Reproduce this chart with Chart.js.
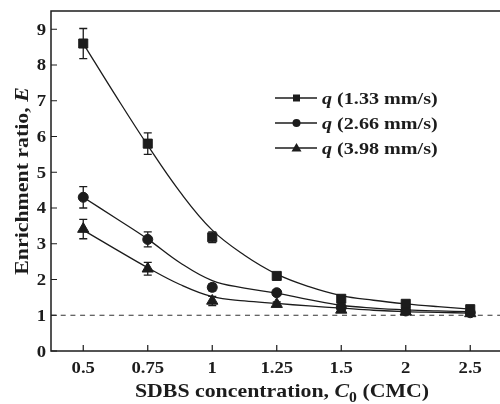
<!DOCTYPE html>
<html>
<head>
<meta charset="utf-8">
<script src="https://cdn.jsdelivr.net/npm/chart.js@4/dist/chart.umd.min.js"></script>
<style>
  html, body { margin: 0; padding: 0; background: #fff; overflow: hidden; }
  #wrap { width: 510px; height: 404px; }
</style>
</head>
<body>
<div id="wrap"><canvas id="myChart" width="510" height="404"></canvas></div>
<script>
'use strict';

let concLabels = ['0.5', '0.75', '1', '1.25', '1.5', '2', '2.5'];
let yTicks = [0, 1, 2, 3, 4, 5, 6, 7, 8, 9];
let seriesNames = ['1.33 mm/s', '2.66 mm/s', '3.98 mm/s'];

// measured points
let q133 = [8.6, 5.8, 3.18, 2.1, 1.46, 1.32, 1.17];
let q266 = [4.3, 3.12, 1.78, 1.63, 1.22, 1.12, 1.07];
let q398 = [3.41, 2.3, 1.4, 1.31, 1.15, 1.1, 1.05];

let err133 = [0.42, 0.3, 0.15, 0.06, 0.05, 0.04, 0.04];
let err266 = [0.3, 0.21, 0.1, 0.07, 0.05, 0.04, 0.04];
let err398 = [0.27, 0.18, 0.13, 0.06, 0.05, 0.04, 0.04];

let fit133 = [8.6, 7.15, 5.75, 4.45, 3.38, 2.68, 2.15, 1.8, 1.55, 1.42, 1.32, 1.24, 1.17];
let fit266 = [4.3, 3.72, 3.13, 2.47, 1.97, 1.76, 1.62, 1.44, 1.28, 1.2, 1.15, 1.12, 1.1];
let fit398 = [3.38, 2.85, 2.33, 1.86, 1.52, 1.4, 1.33, 1.26, 1.2, 1.14, 1.1, 1.08, 1.06];

let refLevel = 1;

let ink = '#1c1c1c';
let serif = "'Liberation Serif', 'Times New Roman', serif";

function points(vals) {
    return vals.map((v, i) => ({ x: i, y: v }));
}
function fitPoints(vals) {
    return vals.map((v, i) => ({ x: i / 2, y: v }));
}

function markerSet(vals, style, radius) {
    return {
        data: points(vals),
        showLine: false,
        pointStyle: style,
        pointRadius: radius,
        pointBackgroundColor: ink,
        pointBorderColor: ink,
        pointBorderWidth: 1,
        order: 0
    };
}
function fitSet(vals) {
    return {
        data: fitPoints(vals),
        showLine: true,
        pointRadius: 0,
        borderColor: ink,
        borderWidth: 1.3,
        tension: 0.4,
        order: 2
    };
}

// draws parts of text one after another, stretched a bit wider like the original
function drawParts(ctx, parts, x, y, sx, align) {
    ctx.save();
    ctx.translate(x, y);
    ctx.scale(sx, 1);
    let total = 0;
    parts.forEach(p => { ctx.font = p.font; total += ctx.measureText(p.text).width; });
    let cx = 0;
    if (align === 'center') cx = -total / 2;
    if (align === 'right') cx = -total;
    ctx.textAlign = 'left';
    parts.forEach(p => {
        ctx.font = p.font;
        ctx.fillText(p.text, cx, p.dy || 0);
        cx += ctx.measureText(p.text).width;
    });
    ctx.restore();
}

function legendMarker(ctx, style, x, y) {
    ctx.beginPath();
    if (style === 'rect') {
        ctx.rect(x - 3.5, y - 3.5, 7, 7);
    } else if (style === 'circle') {
        ctx.arc(x, y, 4, 0, Math.PI * 2);
    } else {
        ctx.moveTo(x, y - 5);
        ctx.lineTo(x + 5, y + 3.5);
        ctx.lineTo(x - 5, y + 3.5);
        ctx.closePath();
    }
    ctx.fill();
}

let errorBars = {
    id: 'errorBars',
    beforeDatasetsDraw(chart) {
        let ctx = chart.ctx;
        let xs = chart.scales.x, ys = chart.scales.y;
        ctx.save();
        ctx.strokeStyle = ink;
        ctx.lineWidth = 1.3;
        [[q133, err133], [q266, err266], [q398, err398]].forEach(pair => {
            let vals = pair[0], errs = pair[1];
            vals.forEach((v, i) => {
                let px = xs.getPixelForValue(i);
                let top = ys.getPixelForValue(v + errs[i]);
                let bot = ys.getPixelForValue(v - errs[i]);
                ctx.beginPath();
                ctx.moveTo(px, top); ctx.lineTo(px, bot);
                ctx.moveTo(px - 4, top); ctx.lineTo(px + 4, top);
                ctx.moveTo(px - 4, bot); ctx.lineTo(px + 4, bot);
                ctx.stroke();
            });
        });
        ctx.restore();
    }
};

let frame = {
    id: 'frame',
    afterDraw(chart) {
        let ctx = chart.ctx;
        let a = chart.chartArea;
        let xs = chart.scales.x, ys = chart.scales.y;
        ctx.save();
        ctx.strokeStyle = ink;
        ctx.lineWidth = 1.5;
        ctx.strokeRect(a.left, a.top, a.right - a.left, a.bottom - a.top);

        // inward ticks
        ctx.lineWidth = 1.2;
        ctx.beginPath();
        concLabels.forEach((l, i) => {
            let px = xs.getPixelForValue(i);
            ctx.moveTo(px, a.bottom); ctx.lineTo(px, a.bottom - 6);
        });
        yTicks.forEach(t => {
            let py = ys.getPixelForValue(t);
            ctx.moveTo(a.left, py); ctx.lineTo(a.left + 6, py);
        });
        ctx.stroke();

        ctx.fillStyle = ink;
        ctx.textBaseline = 'alphabetic';
        let tickF = 'bold 17px ' + serif;

        // tick labels
        concLabels.forEach((l, i) => {
            drawParts(ctx, [{ text: l, font: tickF }], xs.getPixelForValue(i), a.bottom + 21.5, 1.1, 'center');
        });
        yTicks.forEach(t => {
            drawParts(ctx, [{ text: String(t), font: tickF }], a.left - 5, ys.getPixelForValue(t) + 5.5, 1.1, 'right');
        });

        let bold = 'bold 19.5px ' + serif;
        let boldIt = 'italic bold 19.5px ' + serif;

        // x axis title
        drawParts(ctx, [
            { text: 'SDBS concentration, ', font: bold },
            { text: 'C', font: boldIt },
            { text: '0', font: 'bold 14px ' + serif, dy: 5 },
            { text: ' (CMC)', font: bold }
        ], 282, 397, 1.12, 'center');

        // y axis title
        ctx.save();
        ctx.translate(28, 181);
        ctx.rotate(-Math.PI / 2);
        drawParts(ctx, [
            { text: 'Enrichment ratio, ', font: bold },
            { text: 'E', font: boldIt }
        ], 0, 0, 1.12, 'center');
        ctx.restore();

        // legend
        let styles = ['rect', 'circle', 'triangle'];
        let rowY = [98, 123, 148];
        seriesNames.forEach((name, k) => {
            let y = rowY[k];
            ctx.lineWidth = 1.5;
            ctx.beginPath();
            ctx.moveTo(275, y); ctx.lineTo(317, y);
            ctx.stroke();
            legendMarker(ctx, styles[k], 296.5, y);
            drawParts(ctx, [
                { text: 'q', font: 'italic bold 17.5px ' + serif },
                { text: ' (' + name + ')', font: 'bold 17.5px ' + serif }
            ], 322, y + 6, 1.15, 'left');
        });
        ctx.restore();
    }
};

let ctx = document.getElementById('myChart').getContext('2d');
let chart = new Chart(ctx, {
    type: 'scatter',
    data: {
        datasets: [
            markerSet(q133, 'rect', 6.4),
            markerSet(q266, 'circle', 5),
            markerSet(q398, 'triangle', 6.5),
            fitSet(fit133),
            fitSet(fit266),
            fitSet(fit398),
            {
                data: [{ x: -0.5, y: refLevel }, { x: 6.5, y: refLevel }],
                showLine: true,
                pointRadius: 0,
                borderColor: '#333',
                borderWidth: 1.2,
                borderDash: [5, 4.7],
                order: 3
            }
        ]
    },
    options: {
        responsive: false,
        animation: false,
        layout: { padding: { top: 11, right: 2, left: 0, bottom: 0 } },
        plugins: {
            legend: { display: false },
            tooltip: { enabled: false }
        },
        scales: {
            x: {
                type: 'linear',
                min: -0.5,
                max: 6.5,
                afterBuildTicks: s => { s.ticks = concLabels.map((l, i) => ({ value: i })); },
                afterFit: s => { s.height = 53; },
                ticks: { display: false },
                grid: { display: false },
                border: { display: false }
            },
            y: {
                min: 0,
                max: 9.51,
                afterBuildTicks: s => { s.ticks = yTicks.map(t => ({ value: t })); },
                afterFit: s => { s.width = 51; },
                ticks: { display: false },
                grid: { display: false },
                border: { display: false }
            }
        }
    },
    plugins: [errorBars, frame]
});
</script>
</body>
</html>
